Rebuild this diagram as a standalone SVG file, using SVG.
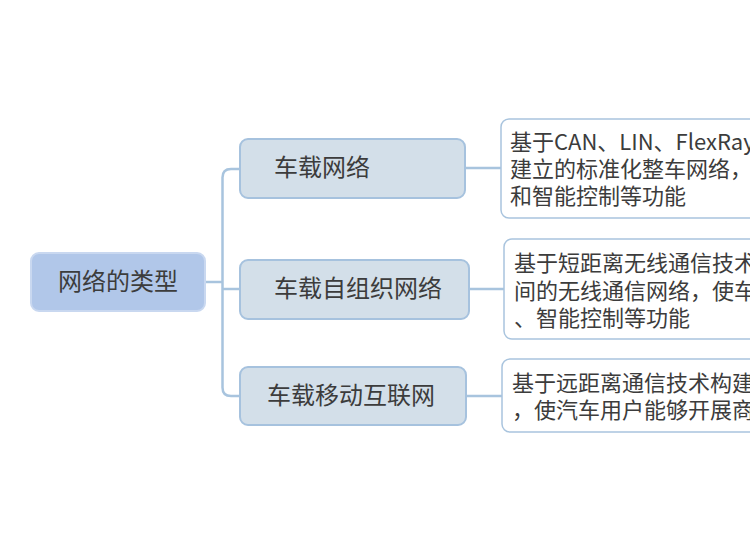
<svg xmlns="http://www.w3.org/2000/svg" width="750" height="560" viewBox="0 0 750 560">
<style>
text{font-family:"Noto Sans CJK SC","Noto Sans",sans-serif;fill:#3c3c3c}
.root{fill:#b1c7e9;stroke:#c9d8f0;stroke-width:2}
.sub{fill:#d3dfe9;stroke:#a6c2de;stroke-width:2}
.leaf{fill:#ffffff;stroke:#a9c4de;stroke-width:1.5}
.big{font-size:24px}
.small{font-size:22px}
.conn{fill:none;stroke:#a8c4de;stroke-width:2.5}
</style>
<rect width="750" height="560" fill="#ffffff"/>
<g id="connectors">
<path class="conn" d="M205 282 H222.5"/>
<path class="conn" d="M240 169 H231 Q222.5 169 222.5 177.5 V387.5 Q222.5 396 231 396 H240"/>
<path class="conn" d="M222.5 289 H240"/>
<path class="conn" d="M465 168 H501"/>
<path class="conn" d="M469 289 H504"/>
<path class="conn" d="M466 396 H502"/>
</g>
<g id="root">
<rect class="root" x="31" y="253" width="174" height="58" rx="8"/>
<text class="big" x="118" y="290" text-anchor="middle">网络的类型</text>
</g>
<g id="n1">
<rect class="sub" x="240" y="139" width="225" height="59" rx="8"/>
<text class="big" x="274" y="176">车载网络</text>
</g>
<g id="n2">
<rect class="sub" x="240" y="260" width="229" height="59" rx="8"/>
<text class="big" x="274" y="297">车载自组织网络</text>
</g>
<g id="n3">
<rect class="sub" x="240" y="367" width="226" height="58" rx="8"/>
<text class="big" x="267" y="404">车载移动互联网</text>
</g>
<g id="l1">
<rect class="leaf" x="501" y="119" width="300" height="99" rx="8"/>
<text class="small" x="510" y="149.5">基于CAN、LIN、FlexRay</text>
<text class="small" x="510" y="176.5">建立的标准化整车网络，使</text>
<text class="small" x="510" y="204">和智能控制等功能</text>
</g>
<g id="l2">
<rect class="leaf" x="504" y="239" width="300" height="100" rx="8"/>
<text class="small" x="514" y="270.5">基于短距离无线通信技术</text>
<text class="small" x="514" y="298.5">间的无线通信网络，使车</text>
<text class="small" x="514" y="326">、智能控制等功能</text>
</g>
<g id="l3">
<rect class="leaf" x="502" y="359" width="300" height="73" rx="8"/>
<text class="small" x="512" y="390.5">基于远距离通信技术构建的</text>
<text class="small" x="512" y="418">，使汽车用户能够开展商务</text>
</g>
</svg>
